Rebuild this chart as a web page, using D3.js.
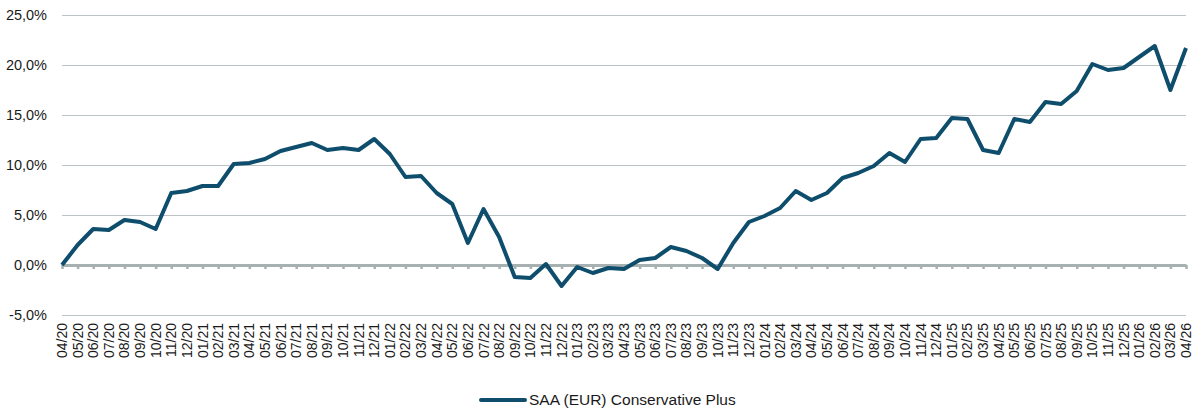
<!DOCTYPE html>
<html><head><meta charset="utf-8">
<script src="https://cdn.jsdelivr.net/npm/d3@7"></script>
<style>body{margin:0;background:#fff;}svg{display:block;font-family:"Liberation Sans",Arial,sans-serif;}</style>
</head><body>
<svg id="chart" width="1194" height="414"></svg>
<script>
const categories = ["04/20","05/20","06/20","07/20","08/20","09/20","10/20","11/20","12/20",
"01/21","02/21","03/21","04/21","05/21","06/21","07/21","08/21","09/21","10/21","11/21","12/21",
"01/22","02/22","03/22","04/22","05/22","06/22","07/22","08/22","09/22","10/22","11/22","12/22",
"01/23","02/23","03/23","04/23","05/23","06/23","07/23","08/23","09/23","10/23","11/23","12/23",
"01/24","02/24","03/24","04/24","05/24","06/24","07/24","08/24","09/24","10/24","11/24","12/24",
"01/25","02/25","03/25","04/25","05/25","06/25","07/25","08/25","09/25","10/25","11/25","12/25",
"01/26","02/26","03/26","04/26"];
const seriesName = "SAA (EUR) Conservative Plus";
const values = [0.0,2.0,3.6,3.5,4.5,4.3,3.6,7.2,7.4,
7.9,7.9,10.1,10.2,10.6,11.4,11.8,12.2,11.5,11.7,11.5,12.6,
11.1,8.8,8.9,7.2,6.1,2.2,5.6,2.8,-1.2,-1.3,0.1,-2.1,
-0.2,-0.8,-0.3,-0.4,0.5,0.7,1.8,1.4,0.7,-0.4,2.2,4.3,
4.9,5.7,7.4,6.5,7.2,8.7,9.2,9.9,11.2,10.3,12.6,12.7,
14.7,14.6,11.5,11.2,14.6,14.3,16.3,16.1,17.4,20.1,19.5,19.7,
20.8,21.9,17.5,21.7];
const yTicks = [-5,0,5,10,15,20,25];

(function () {
const svg = d3.select("#chart");
const mLeft = 62, mRight = 1186, mTop = 15, mBottom = 315;
const x = d3.scalePoint().domain(categories).range([mLeft, mRight]);
const y = d3.scaleLinear().domain([-5, 25]).range([mBottom, mTop]);
const fmt = v => (v < 0 ? "-" : "") + Math.abs(v).toFixed(1).replace(".", ",") + "%";

// gridlines
svg.append("g").selectAll("line").data(yTicks.filter(d => d !== 0)).join("line")
  .attr("x1", mLeft).attr("x2", mRight)
  .attr("y1", d => Math.round(y(d)) + 0.5).attr("y2", d => Math.round(y(d)) + 0.5)
  .attr("stroke", "#bcc3c6").attr("stroke-width", 1);

// y axis labels
const yAxis = d3.axisLeft(y).tickValues(yTicks).tickFormat(fmt).tickSize(0).tickPadding(15);
const gy = svg.append("g").attr("transform", `translate(${mLeft},0)`).call(yAxis);
gy.select(".domain").remove();
gy.selectAll("text").attr("font-size", 14.5).attr("fill", "#1a1a1a")
  .attr("font-family", "'Liberation Sans', Arial, sans-serif");

// zero axis with ticks
const xAxis = d3.axisBottom(x).tickSize(4).tickSizeOuter(0).tickFormat("");
const gx = svg.append("g").attr("transform", `translate(0,${y(0)})`).call(xAxis);
gx.select(".domain").attr("stroke", "#a7b1b2").attr("stroke-width", 3);
gx.selectAll(".tick line").attr("stroke", "#a7b1b2").attr("stroke-width", 2.5);

// x labels (rotated)
const gl = svg.append("g");
gl.selectAll("text").data(categories).join("text")
  .attr("transform", d => `translate(${x(d) + 5},323) rotate(-90)`)
  .attr("text-anchor", "end")
  .attr("font-size", 14).attr("fill", "#1a1a1a")
  .text(d => d);

// line
const line = d3.line().x((d, i) => x(categories[i])).y(d => y(d));
svg.append("path").datum(values)
  .attr("d", line).attr("fill", "none")
  .attr("stroke", "#0e4d6c").attr("stroke-width", 4)
  .attr("stroke-linejoin", "round").attr("stroke-linecap", "butt");

// legend
const lg = svg.append("g").attr("transform", "translate(481,400)");
lg.append("line").attr("x1", 0).attr("x2", 44).attr("y1", 0).attr("y2", 0)
  .attr("stroke", "#0e4d6c").attr("stroke-width", 4).attr("stroke-linecap", "round");
lg.append("text").attr("x", 48).attr("y", 0).attr("dy", "0.35em")
  .attr("font-size", 15.5).attr("fill", "#1a1a1a").text(seriesName);
})();
</script>
</body></html>
